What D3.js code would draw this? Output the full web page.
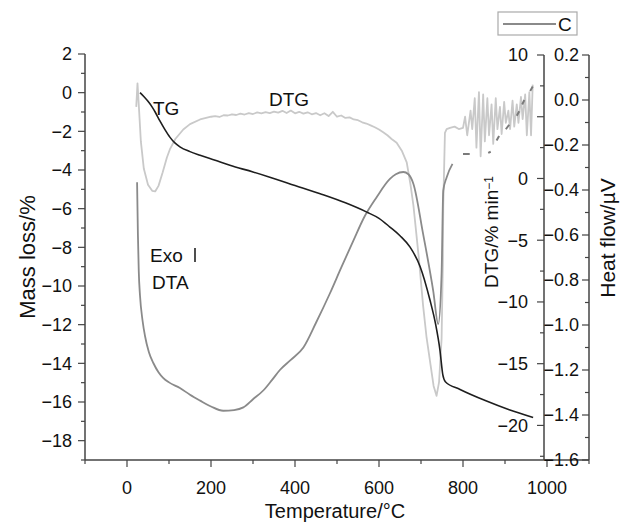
<!DOCTYPE html>
<html>
<head>
<meta charset="utf-8">
<script src="https://cdn.jsdelivr.net/npm/d3@7"></script>
<style>
body { margin: 0; background: #fff; }
text { font-family: "Liberation Sans", Arial, sans-serif; fill: #111; }
</style>
</head>
<body>
<svg id="chart" width="623" height="522"></svg>
<script>
// TG mass loss (%) vs temperature
var tgData = [[31,0],[40,-0.2],[50,-0.45],[60,-0.75],[67,-1.0],[78,-1.45],[90,-1.9],[102,-2.3],[114,-2.6],[126,-2.8],[150,-3.05],[174,-3.24],[210,-3.5],[245,-3.76],[300,-4.1],[340,-4.37],[400,-4.8],[460,-5.23],[520,-5.7],[571,-6.18],[600,-6.5],[626,-6.95],[650,-7.4],[674,-7.99],[698,-9.0],[721,-10.7],[735,-12.0],[745,-13.3],[752,-14.6],[758,-14.95],[793,-15.35],[856,-15.95],[910,-16.4],[967,-16.8]];

// DTG (%/min)
var dtgData = [[22,5.8],[25,7.7],[28,6],[33,3],[40,0.8],[50,-0.5],[60,-1],[67,-1.05],[75,-0.6],[85,0.5],[95,1.7],[102,2.35],[115,3.2],[134,3.97],[150,4.4],[174,4.78],
  [200,5.00],[210,5.05],[220,4.98],[230,5.12],[240,5.10],[250,5.20],[260,5.14],[270,5.25],[280,5.18],[290,5.30],[300,5.22],[310,5.35],[320,5.28],[330,5.38],[340,5.30],[350,5.42],[360,5.33],[370,5.48],[380,5.30],[390,5.50],[400,5.28],[410,5.40],[420,5.25],[430,5.36],[440,5.20],[450,5.30],[460,5.12],[470,5.28],[480,5.05],[490,5.40],[500,5.00],[510,5.10],[520,4.90],[530,4.95],[540,4.78],[550,4.72],[560,4.55],[570,4.45],[580,4.30],[590,4.15],[600,3.97],[610,3.75],[620,3.5],[630,3.2],[642,2.9],[655,2.2],[666,1.3],[675,-0.5],[682,-2.2],[695,-6.5],[705,-10.3],[713,-12.8],[721,-14.7],[730,-16.8],[737,-17.6],[743,-16.5],[749,-13],[752,-7],[753,-2.2],[757,3.7],[761,4.0],[769,4.1],[780,4.2],[790,4.0],[800,4.1],
  [805,5.0],[810,3.5],[818,5.5],[822,4.0],[828,6.5],[832,2.5],[838,7.0],[842,1.8],[848,6.8],[852,3.0],[858,6.5],[862,3.5],[868,6.0],[872,2.8],[878,6.5],[882,4.0],[888,5.8],[892,3.6],[898,6.2],[902,4.5],[908,5.5],[912,4.0],[918,6.3],[922,4.2],[928,6.0],[932,4.5],[938,6.6],[942,4.8],[948,6.8],[952,3.5],[958,7.0],[962,3.5],[966,7.6]];

// DTA heat flow (uV)
var dtaData = [[24,-0.366],[26,-0.6],[28,-0.76],[31,-0.87],[37,-0.98],[43,-1.05],[52,-1.12],[63,-1.17],[75,-1.21],[86,-1.235],[100,-1.255],[126,-1.28],[150,-1.31],[174,-1.336],[200,-1.362],[229,-1.381],[255,-1.378],[277,-1.366],[300,-1.33],[325,-1.29],[345,-1.245],[364,-1.2],[390,-1.155],[420,-1.1],[450,-0.99],[483,-0.86],[510,-0.745],[539,-0.625],[565,-0.52],[594,-0.433],[626,-0.351],[640,-0.33],[658,-0.32],[670,-0.33],[682,-0.373],[705,-0.595],[729,-0.847],[741,-0.996],[749,-0.773],[753,-0.403],[761,-0.344],[775,-0.284]];
// broken DTA trace after 800 C
var dtaDashes = [[[800,-0.24],[816,-0.24]],[[860,-0.235],[866,-0.23]],[[880,-0.18],[886,-0.16]],[[902,-0.13],[910,-0.11]],[[928,-0.07],[934,-0.05]],[[941,-0.02],[946,0.0]],[[960,0.04],[966,0.06]]];

var xTicks = [0, 200, 400, 600, 800, 1000];
var massTicks = [2, 0, -2, -4, -6, -8, -10, -12, -14, -16, -18];
var dtgTicks = [10, 0, -5, -10, -15, -20];
var heatTicks = [0.2, 0.0, -0.2, -0.4, -0.6, -0.8, -1.0, -1.2, -1.4, -1.6];

var svg = d3.select("#chart");

var x = d3.scaleLinear().domain([-100, 1100]).range([85, 589]);
var yMass = d3.scaleLinear().domain([-19, 2]).range([460, 54]);
var yDtg = d3.scaleLinear().domain([-22.8, 10]).range([460, 55]);
var yHeat = d3.scaleLinear().domain([-1.6, 0.2]).range([460, 55]);

function fmt(v, d) {
	var s = Math.abs(v).toFixed(d);
	return (v < 0 ? "\u2212" : "") + s;
}

var axisColor = "#444";
var tickFont = "18px";

// curves
var lineDtg = d3.line().x(function (d) { return x(d[0]); }).y(function (d) { return yDtg(d[1]); });
var lineHeat = d3.line().x(function (d) { return x(d[0]); }).y(function (d) { return yHeat(d[1]); }).curve(d3.curveMonotoneX);
var lineMass = d3.line().x(function (d) { return x(d[0]); }).y(function (d) { return yMass(d[1]); }).curve(d3.curveMonotoneX);

svg.append("path").attr("d", lineDtg(dtgData)).attr("fill", "none")
	.attr("stroke", "#c9c9c9").attr("stroke-width", 1.8).attr("stroke-linejoin", "round");
svg.append("path").attr("d", lineHeat(dtaData)).attr("fill", "none")
	.attr("stroke", "#8a8a8a").attr("stroke-width", 1.8);
dtaDashes.forEach(function (seg) {
	svg.append("path").attr("d", lineHeat(seg)).attr("fill", "none")
		.attr("stroke", "#7a7a7a").attr("stroke-width", 2);
});
svg.append("path").attr("d", lineMass(tgData))
	.attr("fill", "none").attr("stroke", "#1e1e1e").attr("stroke-width", 1.6);

// left axis
var gL = svg.append("g");
gL.append("line").attr("x1", 85).attr("x2", 85).attr("y1", yMass(2)).attr("y2", 460)
	.attr("stroke", axisColor).attr("stroke-width", 1.5);
d3.range(-19, 3, 1).forEach(function (v) {
	var major = v % 2 === 0;
	gL.append("line").attr("x1", 85).attr("x2", major ? 78 : 81).attr("y1", yMass(v)).attr("y2", yMass(v))
		.attr("stroke", axisColor).attr("stroke-width", 1.2);
});
gL.selectAll("text").data(massTicks).enter().append("text")
	.attr("x", 72).attr("y", function (d) { return yMass(d); }).attr("dy", "0.35em")
	.attr("text-anchor", "end").style("font-size", tickFont).text(function (d) { return fmt(d, 0); });

// bottom axis
var gB = svg.append("g");
gB.append("line").attr("x1", 85).attr("x2", 589).attr("y1", 460).attr("y2", 460)
	.attr("stroke", axisColor).attr("stroke-width", 1.5);
d3.range(-100, 1101, 100).forEach(function (v) {
	var major = v % 200 === 0;
	gB.append("line").attr("x1", x(v)).attr("x2", x(v)).attr("y1", 460).attr("y2", major ? 467 : 464)
		.attr("stroke", axisColor).attr("stroke-width", 1.2);
});
gB.selectAll("text").data(xTicks).enter().append("text")
	.attr("x", function (d) { return x(d); }).attr("y", 494)
	.attr("text-anchor", "middle").style("font-size", tickFont).text(function (d) { return d; });

// DTG axis
var xD = 544;
var gD = svg.append("g");
gD.append("line").attr("x1", xD).attr("x2", xD).attr("y1", yDtg(10)).attr("y2", 460)
	.attr("stroke", axisColor).attr("stroke-width", 1.5);
d3.range(-22.5, 10.1, 2.5).forEach(function (v) {
	var major = v % 5 === 0;
	gD.append("line").attr("x1", xD).attr("x2", major ? xD - 7 : xD - 4).attr("y1", yDtg(v)).attr("y2", yDtg(v))
		.attr("stroke", axisColor).attr("stroke-width", 1.2);
});
gD.selectAll("text").data(dtgTicks).enter().append("text")
	.attr("x", xD - 16).attr("y", function (d) { return yDtg(d); }).attr("dy", "0.35em")
	.attr("text-anchor", "end").style("font-size", tickFont).text(function (d) { return fmt(d, 0); });

// heat flow axis
var xH = x(1100);
var gH = svg.append("g");
gH.append("line").attr("x1", xH).attr("x2", xH).attr("y1", yHeat(0.2)).attr("y2", 460)
	.attr("stroke", axisColor).attr("stroke-width", 1.5);
d3.range(-16, 3, 1).forEach(function (k) {
	var v = k / 10;
	var major = k % 2 === 0;
	gH.append("line").attr("x1", xH).attr("x2", major ? xH - 7 : xH - 4).attr("y1", yHeat(v)).attr("y2", yHeat(v))
		.attr("stroke", axisColor).attr("stroke-width", 1.2);
});
gH.selectAll("text").data(heatTicks).enter().append("text")
	.attr("x", xH - 10).attr("y", function (d) { return yHeat(d); }).attr("dy", "0.35em")
	.attr("text-anchor", "end").style("font-size", tickFont).text(function (d) { return fmt(d, 1); });

// axis titles
svg.append("text").attr("transform", "translate(35,257) rotate(-90)")
	.attr("text-anchor", "middle").style("font-size", "22px").text("Mass loss/%");
svg.append("text").attr("x", 335).attr("y", 518)
	.attr("text-anchor", "middle").style("font-size", "20px").text("Temperature/\u00B0C");
var dtgTitle = svg.append("text").attr("transform", "translate(498,232) rotate(-90)")
	.attr("text-anchor", "middle").style("font-size", "19px");
dtgTitle.append("tspan").text("DTG/% min");
dtgTitle.append("tspan").attr("dy", "-0.45em").style("font-size", "12px").text("\u22121");
svg.append("text").attr("transform", "translate(615,238) rotate(-90)")
	.attr("text-anchor", "middle").style("font-size", "21px").text("Heat flow/\u00B5V");

// curve labels
svg.append("text").attr("x", 153).attr("y", 115).style("font-size", "19px").text("TG");
svg.append("text").attr("x", 269).attr("y", 106).style("font-size", "19px").text("DTG");
svg.append("text").attr("x", 150).attr("y", 262).style("font-size", "19px").text("Exo");
svg.append("line").attr("x1", 195).attr("x2", 195).attr("y1", 248).attr("y2", 262)
	.attr("stroke", "#222").attr("stroke-width", 1.6);
svg.append("text").attr("x", 152).attr("y", 289).style("font-size", "19px").text("DTA");

// legend
var leg = svg.append("g");
leg.append("rect").attr("x", 498).attr("y", 12).attr("width", 79).attr("height", 23)
	.attr("fill", "#fff").attr("stroke", "#aaa").attr("stroke-width", 1.2);
leg.append("line").attr("x1", 503).attr("x2", 556).attr("y1", 24).attr("y2", 24)
	.attr("stroke", "#8a8a8a").attr("stroke-width", 2);
leg.append("text").attr("x", 558).attr("y", 31).style("font-size", "19px").text("C");
</script>
</body>
</html>
